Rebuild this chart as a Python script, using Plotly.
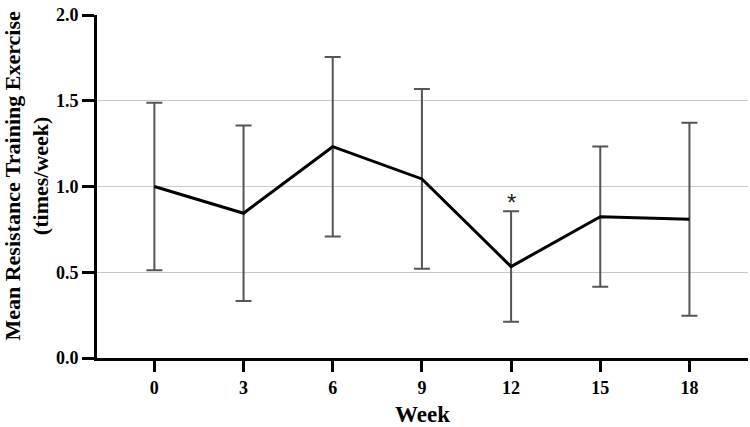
import plotly.graph_objects as go

weeks = [0, 3, 6, 9, 12, 15, 18]
means = [1.00, 0.844, 1.232, 1.044, 0.533, 0.824, 0.809]
errors = [0.489, 0.511, 0.523, 0.524, 0.322, 0.409, 0.563]
y_ticks = [0.0, 0.5, 1.0, 1.5, 2.0]
y_tick_labels = ["0.0", "0.5", "1.0", "1.5", "2.0"]
sig_week = 12
sig_label = "*"

font_family = "Liberation Serif"

fig = go.Figure()
fig.add_trace(go.Scatter(
    x=weeks, y=means, mode="lines",
    line=dict(color="black", width=3),
    error_y=dict(type="data", array=errors, visible=True,
                 color="#555555", thickness=2, width=8),
    showlegend=False, hoverinfo="skip",
))

sig_idx = weeks.index(sig_week)
fig.add_annotation(
    x=sig_week, y=means[sig_idx] + errors[sig_idx] + 0.05,
    text=sig_label, showarrow=False,
    font=dict(family="Liberation Sans", size=24, color="#222222"),
    xanchor="center", yanchor="middle",
)

fig.add_annotation(
    xref="paper", yref="paper",
    x=-0.108, y=0.531,
    text="<b>Mean Resistance Training Exercise<br>(times/week)</b>",
    textangle=-90, showarrow=False,
    font=dict(family=font_family, size=22, color="black"),
    xanchor="center", yanchor="middle",
)

fig.update_layout(
    width=750, height=427,
    margin=dict(l=97, r=2, t=15, b=69),
    paper_bgcolor="white", plot_bgcolor="white",
    font=dict(family=font_family, color="black"),
    xaxis=dict(
        range=[-1.93, 19.97],
        tickvals=weeks, ticktext=[str(w) for w in weeks],
        showgrid=False, zeroline=False,
        showline=True, linecolor="black", linewidth=3,
        ticks="outside", ticklen=11, tickwidth=3, tickcolor="black",
        tickfont=dict(family=font_family, size=18, color="black", weight="bold"),
        title=dict(text="<b>Week</b>", font=dict(family=font_family, size=23, color="black"),
                   standoff=10),
    ),
    yaxis=dict(
        range=[0, 2.0],
        tickvals=y_ticks, ticktext=y_tick_labels,
        showgrid=True, gridcolor="#c8c8c8", gridwidth=1,
        zeroline=False,
        showline=True, linecolor="black", linewidth=3,
        ticks="outside", ticklen=12, tickwidth=3, tickcolor="black",
        tickfont=dict(family=font_family, size=18, color="black", weight="bold"),
    ),
)

fig.write_html("out.html")
